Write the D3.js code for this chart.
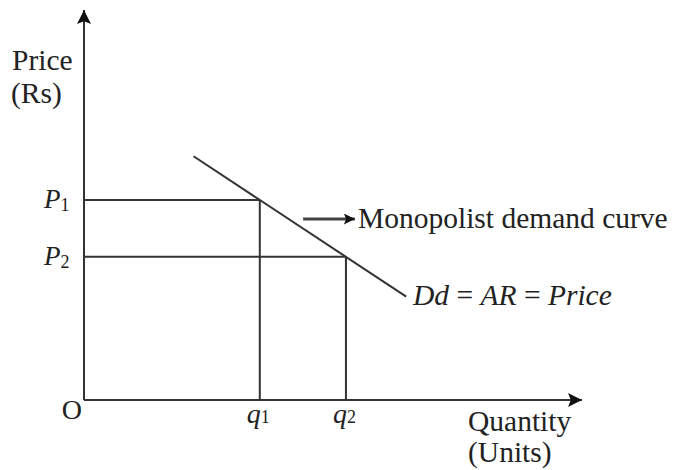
<!DOCTYPE html>
<html>
<head>
<meta charset="utf-8">
<script src="https://cdn.jsdelivr.net/npm/d3@7"></script>
<style>
  body { margin: 0; background: #fff; }
  text { font-family: "Liberation Serif", "Times New Roman", serif; fill: #222; }
</style>
</head>
<body>
<svg id="chart" width="674" height="470"></svg>
<script>
// quantity levels (q1, q2) and price levels (P1, P2), in chart units 0-100
const qLabels = ["1", "2"];
const qValues = [35.3, 52.6];
const pLabels = ["1", "2"];
const pValues = [51.3, 36.7];
// demand line end points
const demandX = [22, 64.7];
const demandY = [62.5, 26.5];

const width = 674;
const height = 470;
const svg = d3.select("#chart");
const ink = "#333";

const x = d3.scaleLinear().domain([0, 100]).range([84, 582]);
const y = d3.scaleLinear().domain([0, 100]).range([400, 10]);

// arrow heads
const defs = svg.append("defs");
defs.append("marker")
  .attr("id", "head")
  .attr("viewBox", "0 0 10 10")
  .attr("refX", 10).attr("refY", 5)
  .attr("markerWidth", 19).attr("markerHeight", 14)
  .attr("markerUnits", "userSpaceOnUse")
  .attr("orient", "auto")
  .append("path").attr("d", "M0,0L10,5L0,10L2,5Z").attr("fill", "#111");
defs.append("marker")
  .attr("id", "headSmall")
  .attr("viewBox", "0 0 10 10")
  .attr("refX", 10).attr("refY", 5)
  .attr("markerWidth", 18).attr("markerHeight", 11)
  .attr("markerUnits", "userSpaceOnUse")
  .attr("orient", "auto")
  .append("path").attr("d", "M0,0L10,5L0,10L2,5Z").attr("fill", "#111");

// guide lines from axes to the demand curve
const g = svg.append("g").attr("stroke", ink).attr("stroke-width", 2).attr("fill", "none");
pValues.forEach((p, i) => {
  g.append("line")
    .attr("x1", x(0)).attr("x2", x(qValues[i]))
    .attr("y1", y(p)).attr("y2", y(p));
  g.append("line")
    .attr("x1", x(qValues[i])).attr("x2", x(qValues[i]))
    .attr("y1", y(p)).attr("y2", y(0));
});

// demand curve
g.append("line")
  .attr("x1", x(demandX[0])).attr("y1", y(demandY[0]))
  .attr("x2", x(demandX[1])).attr("y2", y(demandY[1]));

// axes
svg.append("line")
  .attr("x1", x(0)).attr("y1", y(0)).attr("x2", x(0)).attr("y2", y(100))
  .attr("stroke", ink).attr("stroke-width", 2).attr("marker-end", "url(#head)");
svg.append("line")
  .attr("x1", x(0)).attr("y1", y(0)).attr("x2", x(100)).attr("y2", y(0))
  .attr("stroke", ink).attr("stroke-width", 2).attr("marker-end", "url(#head)");

// pointer to the demand curve label
svg.append("line")
  .attr("x1", x(44)).attr("x2", x(54.4))
  .attr("y1", y(46.4)).attr("y2", y(46.4))
  .attr("stroke", "#444").attr("stroke-width", 3).attr("marker-end", "url(#headSmall)");

// axis titles
const big = 29.5;
svg.append("text").attr("x", 12).attr("y", 70).attr("font-size", big).text("Price");
svg.append("text").attr("x", 11).attr("y", 103).attr("font-size", big).text("(Rs)");
svg.append("text").attr("x", 468).attr("y", 431).attr("font-size", big).text("Quantity");
svg.append("text").attr("x", 468).attr("y", 462).attr("font-size", big).text("(Units)");
svg.append("text").attr("x", x(0) - 2).attr("y", y(0) + 19)
  .attr("text-anchor", "end").attr("font-size", 28).text("O");

// price labels
pValues.forEach((p, i) => {
  const t = svg.append("text").attr("x", 44).attr("y", y(p) + 8).attr("font-size", 27);
  t.append("tspan").attr("font-style", "italic").text("P");
  t.append("tspan").attr("font-size", 18).attr("dy", 3).text(pLabels[i]);
});

// quantity labels
qValues.forEach((q, i) => {
  const t = svg.append("text").attr("x", x(q) - 13).attr("y", y(0) + 23).attr("font-size", 28);
  t.append("tspan").attr("font-style", "italic").text("q");
  t.append("tspan").attr("font-size", 18).text(qLabels[i]);
});

// curve annotations
svg.append("text").attr("x", 358).attr("y", 228).attr("font-size", big)
  .text("Monopolist demand curve");
const dd = svg.append("text").attr("x", 413).attr("y", 305).attr("font-size", big);
dd.append("tspan").attr("font-style", "italic").text("Dd");
dd.append("tspan").text(" = ");
dd.append("tspan").attr("font-style", "italic").text("AR");
dd.append("tspan").text(" = ");
dd.append("tspan").attr("font-style", "italic").text("Price");
</script>
</body>
</html>
